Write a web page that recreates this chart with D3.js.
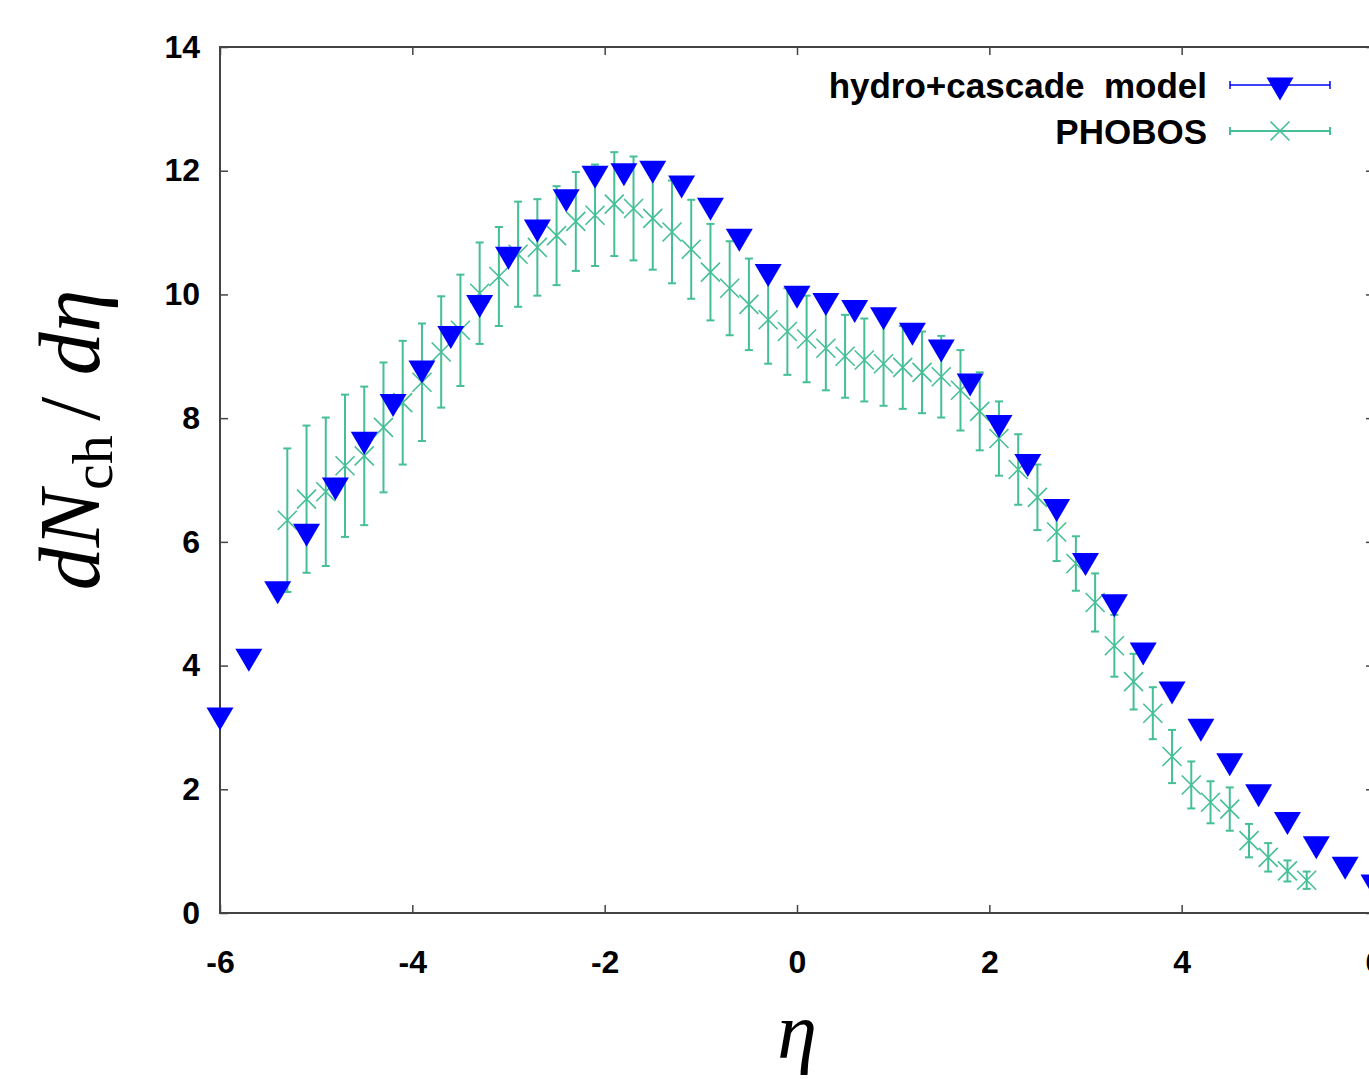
<!DOCTYPE html>
<html lang="en">
<head>
<meta charset="UTF-8">
<title>dNch/deta</title>
<script src="https://d3js.org/d3.v7.min.js"></script>
<style>
  html, body { margin: 0; padding: 0; background: #fff; }
  svg { display: block; }
</style>
</head>
<body>
<svg id="chart"></svg>
<script>
// hydro+cascade model, eta step 0.3
const modelEta = [-6.0, -5.7, -5.4, -5.1, -4.8, -4.5, -4.2, -3.9, -3.6, -3.3, -3.0, -2.7, -2.4, -2.1,
  -1.8, -1.5, -1.2, -0.9, -0.6, -0.3, 0.0, 0.3, 0.6, 0.9, 1.2, 1.5, 1.8, 2.1, 2.4, 2.7, 3.0,
  3.3, 3.6, 3.9, 4.2, 4.5, 4.8, 5.1, 5.4, 5.7, 6.0];
const modelVals = [3.20, 4.15, 5.24, 6.17, 6.92, 7.66, 8.27, 8.81, 9.37, 9.87, 10.65, 11.09, 11.58, 11.96,
  12.00, 12.04, 11.80, 11.44, 10.94, 10.37, 10.02, 9.90, 9.79, 9.67, 9.42, 9.15, 8.60, 7.93, 7.30, 6.57, 5.70,
  5.03, 4.25, 3.62, 3.02, 2.46, 1.96, 1.51, 1.12, 0.79, 0.50];

// PHOBOS data
const phobosEta = [-5.3, -5.1, -4.9, -4.7, -4.5, -4.3, -4.1, -3.9, -3.7, -3.5, -3.3, -3.1, -2.9, -2.7,
  -2.5, -2.3, -2.1, -1.9, -1.7, -1.5, -1.3, -1.1, -0.9, -0.7, -0.5, -0.3, -0.1, 0.1, 0.3, 0.5,
  0.7, 0.9, 1.1, 1.3, 1.5, 1.7, 1.9, 2.1, 2.3, 2.5, 2.7, 2.9, 3.1, 3.3, 3.5, 3.7, 3.9, 4.1,
  4.3, 4.5, 4.7, 4.9, 5.1, 5.3];
const phobosVals = [6.35, 6.69, 6.81, 7.23, 7.39, 7.85, 8.25, 8.58, 9.07, 9.42, 10.02, 10.29, 10.65, 10.76,
  10.95, 11.18, 11.28, 11.46, 11.39, 11.23, 11.01, 10.73, 10.36, 10.10, 9.84, 9.59, 9.40, 9.28, 9.13, 9.00,
  8.94, 8.88, 8.82, 8.74, 8.67, 8.45, 8.11, 7.67, 7.17, 6.72, 6.16, 5.65, 5.02, 4.32, 3.74, 3.23, 2.53, 2.07,
  1.79, 1.68, 1.17, 0.90, 0.68, 0.53];
const phobosErr = [1.16, 1.19, 1.20, 1.15, 1.12, 1.05, 1.00, 0.95, 0.90, 0.90, 0.82, 0.80, 0.85, 0.78,
  0.80, 0.80, 0.82, 0.84, 0.84, 0.83, 0.83, 0.80, 0.78, 0.76, 0.74, 0.71, 0.70, 0.70, 0.68, 0.67,
  0.67, 0.68, 0.67, 0.66, 0.66, 0.65, 0.63, 0.60, 0.57, 0.53, 0.47, 0.44, 0.47, 0.50, 0.45, 0.42, 0.43, 0.38,
  0.34, 0.35, 0.27, 0.23, 0.17, 0.14];

const xTicks = [-6, -4, -2, 0, 2, 4, 6];
const yTicks = [0, 2, 4, 6, 8, 10, 12, 14];
const legendLabels = ["hydro+cascade  model", "PHOBOS"];

const W = 1369, H = 1079;
const margin = { top: 47, left: 220, right: -5, bottom: 166 };
const blue = "#0000ff", teal = "#45bf95", axisCol = "#444";

const svg = d3.select("#chart").attr("width", W).attr("height", H);

const x = d3.scaleLinear().domain([-6, 6]).range([margin.left, W - margin.right]);
const y = d3.scaleLinear().domain([0, 14]).range([H - margin.bottom, margin.top]);

// frame ticks (inward, on all four sides)
const tickFont = "'Liberation Sans', Arial, sans-serif";
const fmt = d => String(d);
svg.append("g")
  .attr("transform", `translate(0,${y(0)})`)
  .call(d3.axisBottom(x).tickValues(xTicks).tickFormat(fmt).tickSize(-8).tickPadding(37).tickSizeOuter(0))
  .call(g => g.select(".domain").remove());
svg.append("g")
  .attr("transform", `translate(0,${y(14)})`)
  .call(d3.axisTop(x).tickValues(xTicks).tickSize(-8).tickFormat("").tickSizeOuter(0))
  .call(g => g.select(".domain").remove());
svg.append("g")
  .attr("transform", `translate(${x(-6)},0)`)
  .call(d3.axisLeft(y).tickValues(yTicks).tickFormat(fmt).tickSize(-8).tickPadding(20).tickSizeOuter(0))
  .call(g => g.select(".domain").remove());
svg.append("g")
  .attr("transform", `translate(${x(6)},0)`)
  .call(d3.axisRight(y).tickValues(yTicks).tickSize(-8).tickFormat("").tickSizeOuter(0))
  .call(g => g.select(".domain").remove());

svg.selectAll(".tick line").attr("stroke", axisCol).attr("stroke-width", 1.5);
svg.selectAll(".tick text")
  .attr("font-family", tickFont).attr("font-weight", "bold")
  .attr("font-size", 32).attr("fill", "#000");

svg.append("rect")
  .attr("x", x(-6)).attr("y", y(14))
  .attr("width", x(6) - x(-6)).attr("height", y(0) - y(14))
  .attr("fill", "none").attr("stroke", axisCol).attr("stroke-width", 2);

// PHOBOS error bars
const cap = 4;
const eb = svg.append("g").attr("stroke", teal).attr("stroke-width", 2);
phobosEta.forEach((e, i) => {
  const cx = x(e), y0 = y(phobosVals[i] - phobosErr[i]), y1 = y(phobosVals[i] + phobosErr[i]);
  eb.append("line").attr("x1", cx).attr("x2", cx).attr("y1", y0).attr("y2", y1);
  eb.append("line").attr("x1", cx - cap).attr("x2", cx + cap).attr("y1", y0).attr("y2", y0);
  eb.append("line").attr("x1", cx - cap).attr("x2", cx + cap).attr("y1", y1).attr("y2", y1);
});

// cross markers
const crossPath = (cx, cy, s) => `M${cx - s},${cy - s}L${cx + s},${cy + s}M${cx - s},${cy + s}L${cx + s},${cy - s}`;
svg.append("g").selectAll("path")
  .data(phobosEta)
  .join("path")
  .attr("d", (e, i) => crossPath(x(e), y(phobosVals[i]), 9.5))
  .attr("stroke", teal).attr("stroke-width", 1.6).attr("fill", "none");

// down triangles (centroid at data point)
const triPath = (cx, cy) => `M${cx - 13.5},${cy - 7.5}L${cx + 13.5},${cy - 7.5}L${cx},${cy + 15.5}Z`;
svg.append("g").selectAll("path")
  .data(modelEta)
  .join("path")
  .attr("d", (e, i) => triPath(x(e), y(modelVals[i])))
  .attr("fill", blue);

// legend
const leg = svg.append("g");
const legY = [85, 131];
legendLabels.forEach((t, i) => {
  leg.append("text")
    .attr("x", 1207).attr("y", legY[i]).attr("dy", "0.36em")
    .attr("text-anchor", "end")
    .style("white-space", "pre")
    .attr("font-family", tickFont).attr("font-weight", "bold").attr("font-size", 35)
    .text(t);
  const c = i === 0 ? blue : teal;
  const g = leg.append("g").attr("stroke", c).attr("stroke-width", i === 0 ? 1.5 : 2);
  g.append("line").attr("x1", 1230).attr("x2", 1330).attr("y1", legY[i]).attr("y2", legY[i]);
  g.append("line").attr("x1", 1230).attr("x2", 1230).attr("y1", legY[i] - 4).attr("y2", legY[i] + 4);
  g.append("line").attr("x1", 1330).attr("x2", 1330).attr("y1", legY[i] - 4).attr("y2", legY[i] + 4);
});
leg.append("path").attr("d", triPath(1280, legY[0])).attr("fill", blue);
leg.append("path").attr("d", crossPath(1280, legY[1], 9.5))
  .attr("stroke", teal).attr("stroke-width", 1.6).attr("fill", "none");

// axis titles
const serif = "'Liberation Serif', 'Times New Roman', serif";
const yl = svg.append("text")
  .attr("transform", "translate(99,440) rotate(-90)")
  .attr("text-anchor", "middle")
  .style("white-space", "pre")
  .attr("font-family", serif).attr("font-size", 86);
yl.append("tspan").attr("font-style", "italic").text("dN");
yl.append("tspan").attr("font-size", 58).attr("dy", 13).text("ch ");
yl.append("tspan").attr("dy", -13).text("/ ");
yl.append("tspan").attr("font-style", "italic").text("dη");

svg.append("text")
  .attr("x", x(0)).attr("y", 1058)
  .attr("text-anchor", "middle")
  .attr("font-family", serif).attr("font-style", "italic").attr("font-size", 80)
  .text("η");
</script>
</body>
</html>
